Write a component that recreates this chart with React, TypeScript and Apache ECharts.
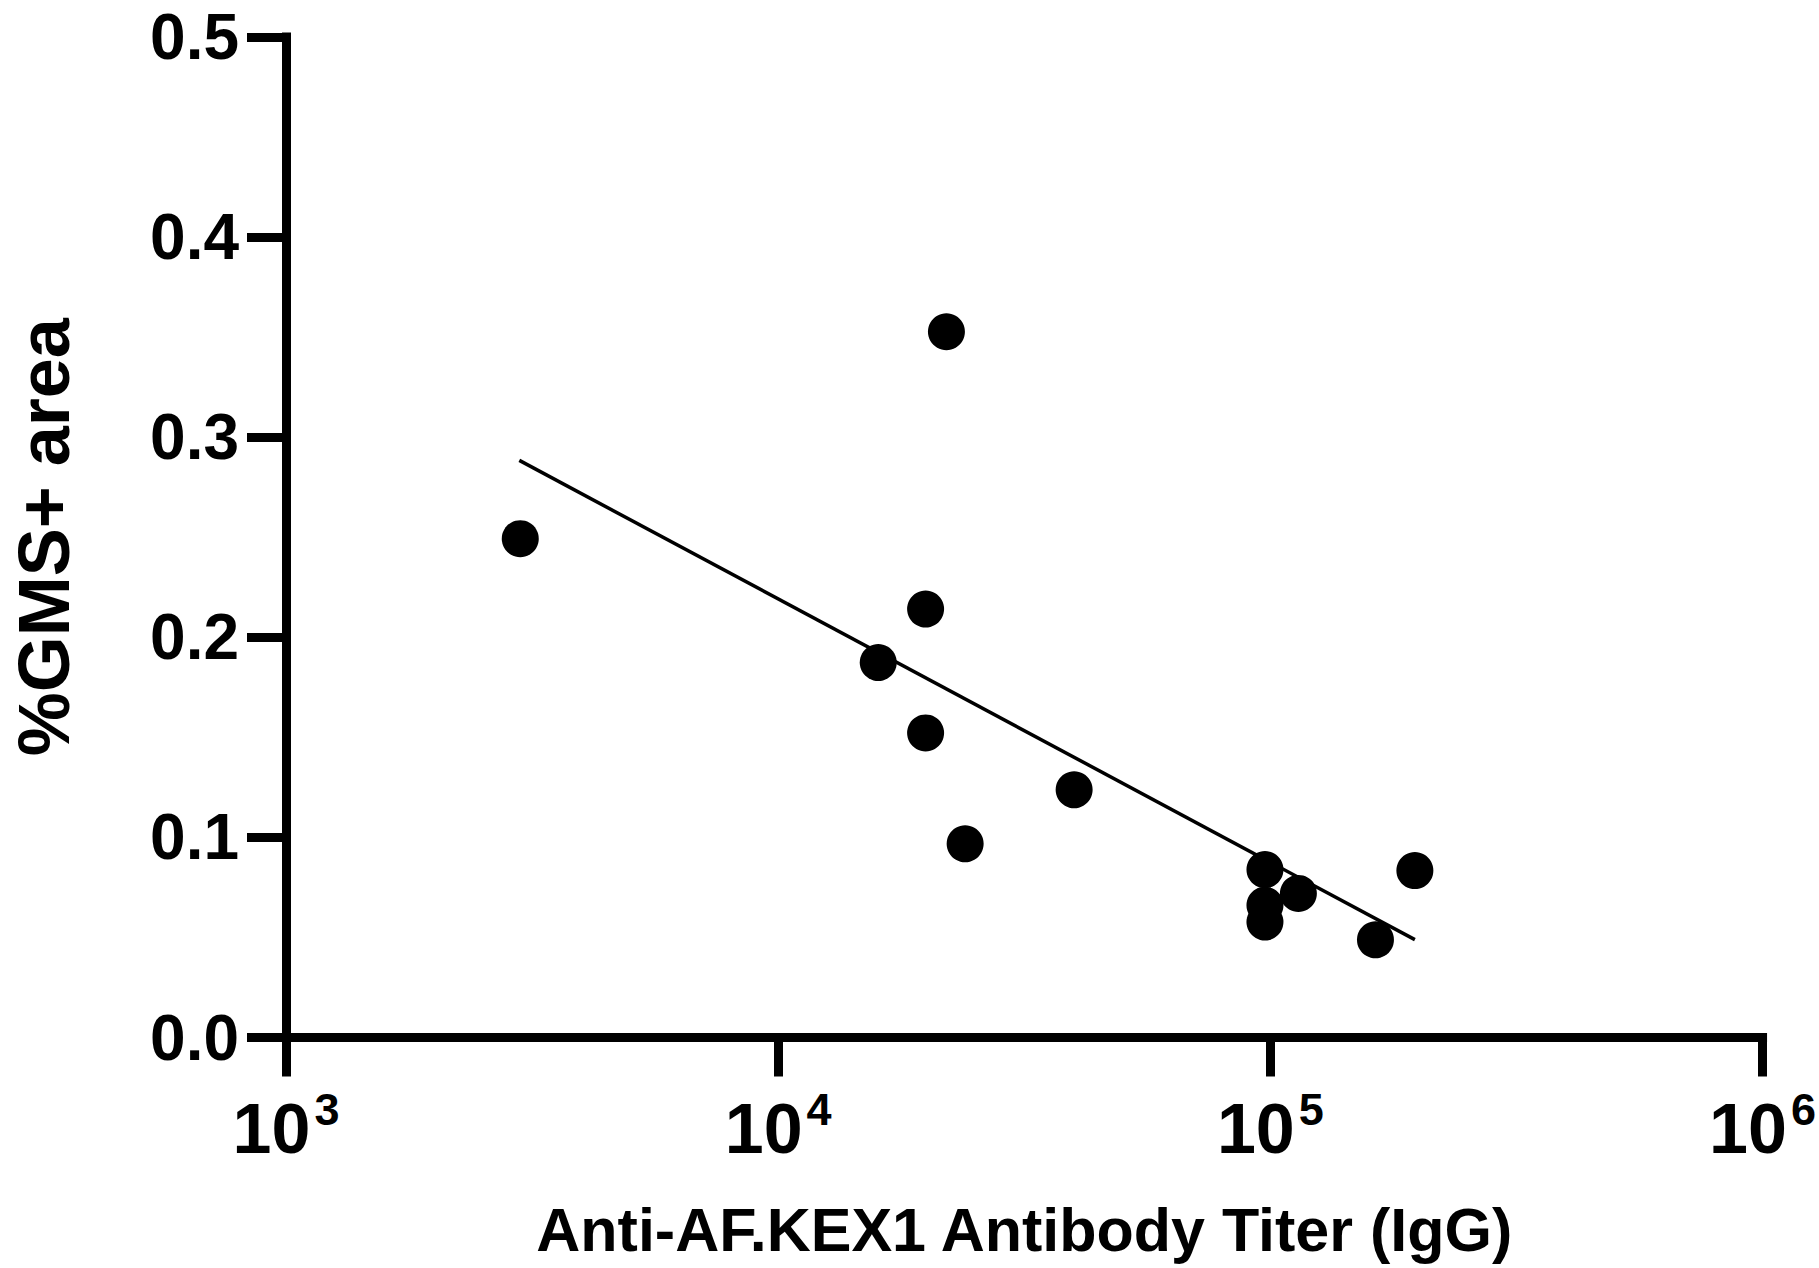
import React, { useEffect, useRef } from "react";
import * as echarts from "echarts";

// Data
const titers: number[] = [2992, 21970, 19930, 15970, 19930, 23980, 39930, 97500, 97500, 97500, 114000, 163500, 196600];
const gmsArea: number[] = [0.2493, 0.3527, 0.2141, 0.1874, 0.1522, 0.0968, 0.1238, 0.0839, 0.0661, 0.0577, 0.072, 0.0488, 0.0834];
const fitTiters: number[] = [2979, 196600];
const fitValues: number[] = [0.2884, 0.0489];
const yTicks: number[] = [0, 0.1, 0.2, 0.3, 0.4, 0.5];
const xExponents: number[] = [3, 4, 5, 6];

const xTitle = "Anti-AF.KEX1 Antibody Titer (IgG)";
const yTitle = "%GMS+ area";

const FONT = "'Liberation Sans', Arial, Helvetica, sans-serif";

export default function App() {
  const ref = useRef<HTMLDivElement>(null);

  useEffect(() => {
    document.body.style.margin = "0";
    if (!ref.current) return;
    const chart = echarts.init(ref.current, undefined, { renderer: "svg" });

    const scatterData = titers.map((t, i) => [t, gmsArea[i]]);
    const fitData = fitTiters.map((t, i) => [t, fitValues[i]]);

    const axisLineStyle = { color: "#000", width: 9, cap: "square" as const };

    chart.setOption({
      animation: false,
      backgroundColor: "#fff",
      grid: { left: 269.5, right: 52.5, top: 37, bottom: 230.5, containLabel: false },
      xAxis: {
        type: "log",
        logBase: 10,
        min: Math.pow(10, xExponents[0]),
        max: Math.pow(10, xExponents[xExponents.length - 1]),
        name: xTitle,
        nameLocation: "middle",
        nameGap: 162,
        nameTextStyle: { fontFamily: FONT, fontWeight: "bold", fontSize: 61, color: "#000" },
        axisLine: { show: true, onZero: false, lineStyle: axisLineStyle },
        axisTick: { show: true, length: 39, inside: false, lineStyle: { color: "#000", width: 9 } },
        minorTick: { show: false },
        splitLine: { show: false },
        axisLabel: {
          show: true,
          margin: 49,
          showMinLabel: true,
          showMaxLabel: true,
          formatter: (v: number) => {
            const e = Math.round(Math.log10(v));
            return xExponents.includes(e) ? `{b|10}{s|${e}}` : "";
          },
          rich: {
            b: { fontFamily: FONT, fontWeight: "bold", fontSize: 70, lineHeight: 77, verticalAlign: "bottom", color: "#000" },
            s: { fontFamily: FONT, fontWeight: "bold", fontSize: 45, lineHeight: 40, verticalAlign: "top", color: "#000", padding: [0, 0, 0, 4] },
          },
        },
      },
      yAxis: {
        type: "value",
        min: yTicks[0],
        max: yTicks[yTicks.length - 1],
        interval: 0.1,
        name: yTitle,
        nameLocation: "middle",
        nameGap: 214,
        nameRotate: 90,
        nameTextStyle: { fontFamily: FONT, fontWeight: "bold", fontSize: 72, lineHeight: 56, color: "#000" },
        axisLine: { show: true, lineStyle: axisLineStyle },
        axisTick: { show: true, length: 39, inside: false, lineStyle: { color: "#000", width: 9 } },
        splitLine: { show: false },
        axisLabel: {
          show: true,
          margin: 47,
          fontFamily: FONT,
          fontWeight: "bold",
          fontSize: 64,
          lineHeight: 52,
          color: "#000",
          formatter: (v: number) => v.toFixed(1),
        },
      },
      series: [
        {
          type: "line",
          data: fitData,
          symbol: "none",
          lineStyle: { color: "#000", width: 3.5 },
          z: 2,
        },
        {
          type: "scatter",
          data: scatterData,
          symbol: "circle",
          symbolSize: 37,
          itemStyle: { color: "#000", opacity: 1 },
          z: 3,
        },
      ],
    });

    return () => chart.dispose();
  }, []);

  return (
    <div
      ref={ref}
      style={{ position: "absolute", left: 0, top: 0, width: 1819, height: 1268 }}
    />
  );
}
